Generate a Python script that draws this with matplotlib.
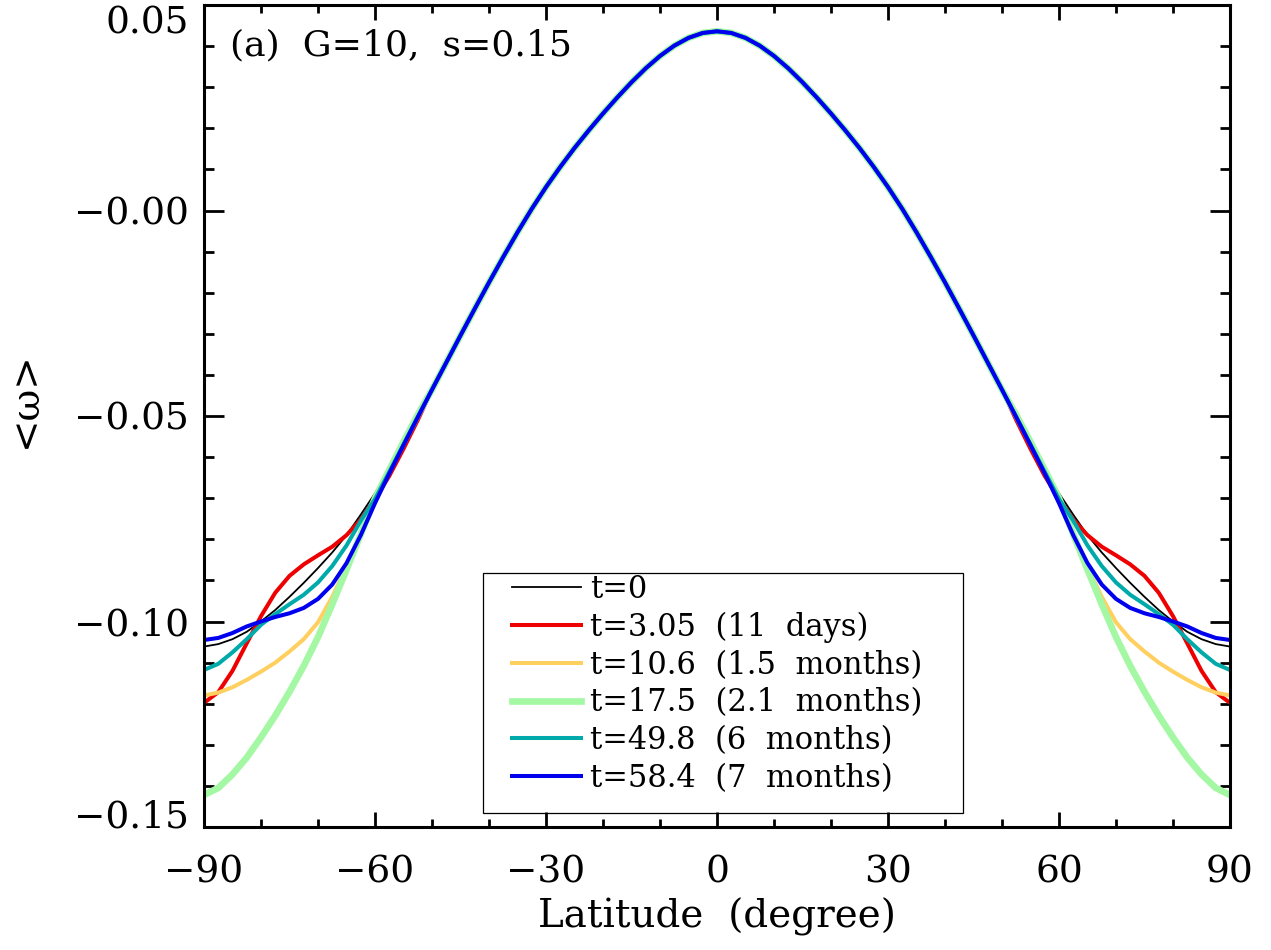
import numpy as np
import matplotlib
matplotlib.use("Agg")
import matplotlib.pyplot as plt
from matplotlib.ticker import MultipleLocator, FixedLocator, FixedFormatter
from matplotlib.patches import Rectangle

plt.rcParams['font.family'] = ['DejaVu Serif', 'DejaVu Sans']

# latitude grid for one hemisphere (profiles are symmetric about the equator)
lat_half = [0, 2.5, 5, 7.5, 10, 12.5, 15, 17.5, 20, 22.5, 25, 27.5, 30, 32.5, 35,
            37.5, 40, 42.5, 45, 47.5, 50, 52.5, 55, 57.5, 60, 62.5, 65, 67.5,
            70, 72.5, 75, 77.5, 80, 82.5, 85, 87.5, 90]

# shared part of the profile, 0..50 deg
core = [0.0436, 0.0432, 0.0420, 0.0401, 0.0376, 0.0346, 0.0312, 0.0275, 0.0236,
        0.0195, 0.0152, 0.0106, 0.0057, 0.0004, -0.0053, -0.0113, -0.0175,
        -0.0239, -0.0304, -0.0370, -0.0436]

# high-latitude parts, 52.5..90 deg
tail_t0 = [-0.0502, -0.0568, -0.0632, -0.0688, -0.0740, -0.0790, -0.0832, -0.0870,
           -0.0906, -0.0940, -0.0972, -0.1000, -0.1025, -0.1043, -0.1055, -0.1061]
tail_t3 = [-0.0510, -0.0580, -0.0646, -0.0702, -0.0752, -0.0790, -0.0818, -0.0839,
           -0.0861, -0.0889, -0.0930, -0.0987, -0.1053, -0.1120, -0.1172, -0.1198]
tail_t10 = [-0.0500, -0.0566, -0.0634, -0.0705, -0.0788, -0.0866, -0.0940, -0.1002,
            -0.1043, -0.1073, -0.1100, -0.1122, -0.1142, -0.1160, -0.1173, -0.1180]
tail_t17 = [-0.0497, -0.0563, -0.0631, -0.0700, -0.0788, -0.0874, -0.0958, -0.1038,
            -0.1108, -0.1171, -0.1229, -0.1282, -0.1331, -0.1372, -0.1405, -0.1422]
tail_t49 = [-0.0502, -0.0569, -0.0636, -0.0702, -0.0755, -0.0815, -0.0865, -0.0905,
            -0.0935, -0.0958, -0.0982, -0.1008, -0.1043, -0.1075, -0.1103, -0.1118]
tail_t58 = [-0.0503, -0.0571, -0.0640, -0.0712, -0.0790, -0.0858, -0.0910, -0.0945,
            -0.0967, -0.0980, -0.0989, -0.1000, -0.1012, -0.1028, -0.1040, -0.1045]

labels = ["t=0", "t=3.05  (11  days)", "t=10.6  (1.5  months)", "t=17.5  (2.1  months)",
          "t=49.8  (6  months)", "t=58.4  (7  months)"]
tails = [tail_t0, tail_t3, tail_t10, tail_t17, tail_t49, tail_t58]
colors = ["#000000", "#ee0000", "#ffd060", "#a4f8a4", "#00aaaa", "#0000ee"]
widths = [1.3, 2.9, 2.9, 4.8, 2.9, 2.9]

xticks = [-90, -60, -30, 0, 30, 60, 90]
xticklabels = ["\u221290", "\u221260", "\u221230", "0", "30", "60", "90"]
yticks = [-0.15, -0.10, -0.05, 0.0, 0.05]
yticklabels = ["\u22120.15", "\u22120.10", "\u22120.05", "\u22120.00", "0.05"]

W, H = 1271, 950
fig = plt.figure(figsize=(W / 100, H / 100), dpi=100)
ax = fig.add_axes([204 / W, 1 - 827 / H, (1230 - 204) / W, (827 - 5) / H])

lh = np.array(lat_half)
lat_full = np.concatenate([-lh[::-1], lh[1:]])
handles = []
for tail, c, lw, lab in zip(tails, colors, widths, labels):
    half = np.array(core + tail)
    vals = np.concatenate([half[::-1], half[1:]])
    h, = ax.plot(lat_full, vals, color=c, lw=lw, label=lab)
    handles.append(h)

ax.set_xlim(-90, 90)
ax.set_ylim(-0.15, 0.05)
ax.xaxis.set_major_locator(FixedLocator(xticks))
ax.xaxis.set_major_formatter(FixedFormatter(xticklabels))
ax.xaxis.set_minor_locator(MultipleLocator(10))
ax.yaxis.set_major_locator(FixedLocator(yticks))
ax.yaxis.set_major_formatter(FixedFormatter(yticklabels))
ax.yaxis.set_minor_locator(MultipleLocator(0.01))

for s in ax.spines.values():
    s.set_linewidth(2.2)
ax.tick_params(which='both', direction='in', top=True, right=True, width=2.0,
               labelsize=27)
ax.tick_params(axis='x', which='major', length=11, pad=20)
ax.tick_params(axis='x', which='minor', length=5.5)
ax.tick_params(axis='y', which='major', length=14.5, pad=11)
ax.tick_params(axis='y', which='minor', length=7)

ax.set_xlabel("Latitude  (degree)", fontsize=28, labelpad=5)
ax.set_ylabel("<\u03c9>", fontsize=28)
ax.yaxis.set_label_coords(-0.156, 0.52)

# IDL-style: edge labels kept inside the axis range
fig.canvas.draw()
ylabs = ax.get_yticklabels()
ylabs[-1].set_verticalalignment('top')
ylabs[0].set_verticalalignment('baseline')

ax.text(230 / W, 1 - 45 / H, "(a)  G=10,  s=0.15", transform=fig.transFigure,
        fontsize=26, va='center', ha='left')

# legend box
fig.patches.append(Rectangle((483 / W, 1 - 813 / H), (963 - 483) / W, (813 - 573) / H,
                             transform=fig.transFigure, fill=False, edgecolor='black',
                             lw=0.9, zorder=5))
leg = ax.legend(handles=handles, loc='upper left',
                bbox_to_anchor=(512 / W, 1 - 574 / H), bbox_transform=fig.transFigure,
                frameon=False, fontsize=22, handlelength=2.25, handletextpad=0.3,
                labelspacing=0.22, borderpad=0.0, borderaxespad=0.0)

fig.savefig("out.png", dpi=100)
